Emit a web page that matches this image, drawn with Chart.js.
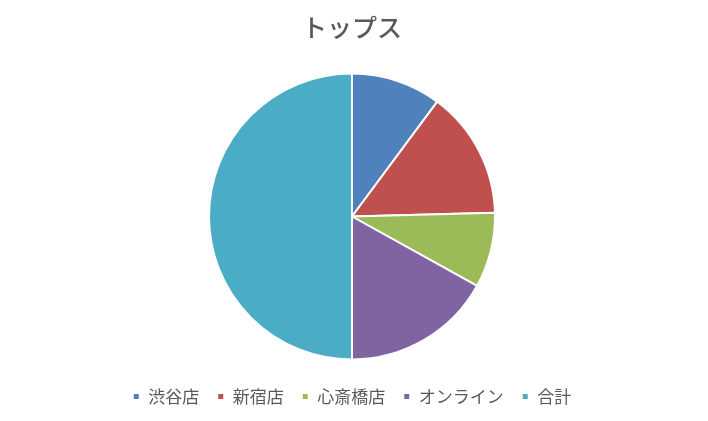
<!DOCTYPE html>
<html>
<head>
<meta charset="utf-8">
<script src="https://cdn.jsdelivr.net/npm/chart.js@4"></script>
<style>
  body { margin: 0; background: #fff; }
  #wrap { width: 708px; height: 421px; }
</style>
</head>
<body>
<div id="wrap"><canvas id="pieChart"></canvas></div>
<script>
const stores = ['渋谷店', '新宿店', '心斎橋店', 'オンライン', '合計'];
const sales = [120, 170, 100, 200, 590];
const colors = ['#4f81bd', '#c0504d', '#9bbb59', '#8064a2', '#4bacc6'];

const font = "'Noto Sans CJK JP', 'Noto Sans', sans-serif";

new Chart(document.getElementById('pieChart').getContext('2d'), {
    type: 'pie',
    data: {
        labels: stores,
        datasets: [{
            data: sales,
            backgroundColor: colors,
            borderColor: '#ffffff',
            borderWidth: 2
        }]
    },
    options: {
        responsive: true,
        maintainAspectRatio: false,
        animation: false,
        radius: 143,
        layout: { padding: { top: 6, bottom: 6, right: 4 } },
        plugins: {
            title: {
                display: true,
                text: 'トップス',
                color: '#595959',
                font: { family: font, size: 25, weight: '500' },
                padding: { top: 6, bottom: 21 }
            },
            legend: {
                position: 'bottom',
                labels: {
                    color: '#595959',
                    font: { family: font, size: 17 },
                    boxWidth: 7,
                    boxHeight: 7,
                    padding: 18
                }
            },
            tooltip: { enabled: false }
        }
    }
});
</script>
</body>
</html>
